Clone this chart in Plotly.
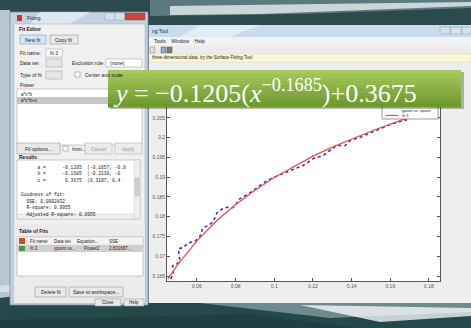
import plotly.graph_objects as go

# ---- data ----
x_data = [0.0464, 0.0470, 0.0478, 0.0474, 0.0495, 0.0512, 0.0503, 0.0529, 0.0555, 0.0590,
          0.0616, 0.0630, 0.0650, 0.0676, 0.0693, 0.0702, 0.0728, 0.0754, 0.0780, 0.0797,
          0.0814, 0.0849, 0.0883, 0.0918, 0.0952, 0.0995, 0.1047, 0.1099, 0.1151, 0.1203,
          0.1254, 0.1289, 0.1324, 0.1367, 0.1393, 0.1445, 0.1496, 0.1548, 0.1600, 0.1652, 0.1686]
y_data = [0.1643, 0.1650, 0.1655, 0.1676, 0.1680, 0.1688, 0.1719, 0.1722, 0.1734, 0.1738,
          0.1751, 0.1772, 0.1776, 0.1784, 0.1797, 0.1809, 0.1819, 0.1824, 0.1822, 0.1826,
          0.1843, 0.1853, 0.1863, 0.1876, 0.1888, 0.1899, 0.1909, 0.1918, 0.1930, 0.1947,
          0.1955, 0.1968, 0.1980, 0.1980, 0.1993, 0.2001, 0.2011, 0.2022, 0.2033, 0.2041, 0.2045]
x_fit = [0.045, 0.050, 0.060, 0.070, 0.080, 0.090, 0.100, 0.110, 0.120, 0.130, 0.140, 0.150, 0.160, 0.168]
y_fit = [0.1643, 0.1679, 0.1739, 0.1789, 0.1831, 0.1867, 0.1899, 0.1927, 0.1953, 0.1976, 0.1997, 0.2016, 0.2034, 0.2048]
x_ticks = [0.06, 0.08, 0.10, 0.12, 0.14, 0.16, 0.18]
x_tick_labels = ["0.06", "0.08", "0.1", "0.12", "0.14", "0.16", "0.18"]
y_ticks = [0.165, 0.17, 0.175, 0.18, 0.185, 0.19, 0.195, 0.2, 0.205]
y_tick_labels = ["0.165", "0.17", "0.175", "0.18", "0.185", "0.19", "0.195", "0.2", "0.205"]
equation = "<i>y</i> = −0.1205(<i>x</i><sup>−0.1685</sup>)+0.3675"
results_lines = ["      a =      -0.1205  (-0.1657, -0.0",
                 "      b =      -0.1685  (-0.2138, -0",
                 "      c =       0.3675  (0.3197, 0.4",
                 "",
                 "Goodness of fit:",
                 "  SSE: 0.0002832",
                 "  R-square: 0.9955",
                 "  Adjusted R-square: 0.9955"]

W, H = 471, 328
L, R, T, B = 167, 440, 100, 281

def px(x):
    return (x - L) / (R - L)

def py(y):
    return (B - y) / (B - T)

shapes = []
annos = []

def rect(x0, y0, x1, y1, fill, line=None, lw=0.8, layer="below", opacity=1):
    shapes.append(dict(type="rect", xref="paper", yref="paper",
                       x0=px(x0), x1=px(x1), y0=py(y1), y1=py(y0),
                       fillcolor=fill, opacity=opacity, layer=layer,
                       line=dict(color=line or fill, width=lw if line else 0)))

def path(pts, fill, layer="below", opacity=1):
    d = "M " + " L ".join(f"{px(a):.5f},{py(b):.5f}" for a, b in pts) + " Z"
    shapes.append(dict(type="path", xref="paper", yref="paper", path=d,
                       fillcolor=fill, opacity=opacity, layer=layer, line=dict(width=0)))

def text(x, y, s, size=5, color="#222", anchor="left", font="Liberation Sans", bold=False):
    if bold:
        s = "<b>" + s + "</b>"
    annos.append(dict(x=px(x), y=py(y), xref="paper", yref="paper", text=s, showarrow=False,
                      xanchor=anchor, yanchor="middle",
                      font=dict(size=size, color=color, family=font)))

# --- background decorations ---
path([(150, 0), (471, 0), (471, 8), (300, 14), (150, 16)], "#6f8f95", opacity=0.7)
path([(170, 6), (471, 2), (471, 6), (260, 14), (170, 15)], "#e6eef0", opacity=0.8)
rect(0, 10, 10, 292, "#b7c6d2")
path([(0, 286), (40, 280), (60, 290), (0, 298)], "#dce6ee", opacity=0.8)
# bottom band
rect(0, 303, 471, 328, "#25494b")
path([(200, 303), (471, 303), (471, 312), (330, 318)], "#9fb8bc", opacity=0.6)
path([(300, 305), (471, 308), (471, 316), (380, 322)], "#ffffff", opacity=0.75)
path([(0, 320), (250, 314), (360, 328), (0, 328)], "#1d3c3f", opacity=0.7)

# --- main window ---
rect(148, 25, 471, 303, "#eeeeee")
rect(148, 25, 471, 37, "#c9dcee")
path([(200, 25), (260, 25), (230, 37), (180, 37)], "#e6f0f8", opacity=0.8)
text(150, 31, "ng Tool", 5)
rect(440, 27, 450, 34, "#d8e2ec", "#8a9aaa", 0.5)
rect(451, 27, 461, 34, "#d8e2ec", "#8a9aaa", 0.5)
rect(462, 27, 471, 34, "#d8e2ec", "#8a9aaa", 0.5)
rect(148, 37, 471, 45, "#f2f2f2")
text(152, 41, "Tools    Window    Help", 5)
rect(148, 45, 471, 54, "#ececec")
rect(150, 47, 155, 53, "#dddddd", "#888888", 0.5)
rect(161, 47, 166, 53, "#8fa6c4", "#556677", 0.5)
rect(167, 47, 172, 53, "#7a7a7a", "#555555", 0.5)
rect(148, 54, 471, 62, "#fbf6d6", "#e0d9a8", 0.5)
text(150, 58, "three dimensional data, try the Surface Fitting Tool", 4.5)
shapes.append(dict(type="line", xref="paper", yref="paper", x0=px(148), x1=px(148),
                   y0=py(303), y1=py(25), line=dict(color="#60707e", width=1.5), layer="below"))
# axes white area
rect(L, T, R, B, "#ffffff")

# --- Fitting dialog ---
rect(10, 12, 148, 305, "#c3d2e2", "#7d8c9c", 0.8)
path([(40, 12), (90, 12), (70, 24), (30, 24)], "#e4edf5", opacity=0.8)
rect(14, 24, 145, 303, "#f0f0f0", "#a0a8b0", 0.5)
rect(17, 15, 22, 21, "#c0392b")
text(25, 18, "Fitting", 5)
rect(105, 13, 115, 20, "#d6e0ea", "#8a9aaa", 0.4)
rect(115, 13, 125, 20, "#d6e0ea", "#8a9aaa", 0.4)
rect(125, 13, 145, 20, "#c9473b", "#8a3a30", 0.4)
text(17, 29, "Fit Editor", 5, bold=True)
rect(20, 35, 46, 44, "#d7e6f5", "#7f9db9", 0.6)
text(33, 39.5, "New fit", 5, anchor="center")
rect(50, 35, 78, 44, "#e9e9e9", "#9a9a9a", 0.6)
text(64, 39.5, "Copy fit", 5, anchor="center")
text(18, 53, "Fit name:", 5)
rect(46, 49, 62, 57, "#ffffff", "#9a9a9a", 0.5)
text(48, 53, "fit 3", 5)
text(18, 63, "Data set", 5)
rect(46, 59, 62, 67, "#e6e6e6", "#9a9a9a", 0.5)
text(70, 63, "Exclusion rule:", 5)
rect(106, 59, 142, 67, "#ffffff", "#9a9a9a", 0.5)
text(108, 63, "(none)", 5)
text(18, 75, "Type of fit", 5)
rect(46, 71, 62, 79, "#e6e6e6", "#9a9a9a", 0.5)
rect(75, 72, 80, 77, "#ffffff", "#777777", 0.5)
text(83, 75, "Center and scale", 5)
text(18, 85, "Power", 5)
rect(17, 89, 142, 145, "#ffffff", "#9a9a9a", 0.5)
text(19, 94, "a*x^b", 4.5)
rect(17, 97, 142, 104, "#c6c6c6")
text(19, 100.5, "a*x^b+c", 4.5)
rect(17, 143, 60, 154, "#e9e9e9", "#9a9a9a", 0.6)
text(38.5, 148.5, "Fit options...", 5, anchor="center")
rect(63, 146, 68, 151, "#ffffff", "#777777", 0.5)
text(70, 148.5, "Imm...", 5)
rect(85, 143, 112, 154, "#ececec", "#b5b5b5", 0.6)
text(98.5, 148.5, "Cancel", 5, color="#9a9a9a", anchor="center")
rect(115, 143, 142, 154, "#ececec", "#b5b5b5", 0.6)
text(128.5, 148.5, "Apply", 5, color="#9a9a9a", anchor="center")
text(17, 157, "Results", 5, bold=True)
rect(17, 160, 140, 219, "#ffffff", "#9a9a9a", 0.5)
for i, ln in enumerate(results_lines):
    if ln:
        text(19, 167 + i * 6.8, ln.replace(" ", "&nbsp;"), 4.6, font="Liberation Mono")
rect(134, 160, 140, 219, "#eeeeee", "#c0c0c0", 0.4)
rect(17, 214, 134, 219, "#eeeeee", "#c0c0c0", 0.4)
rect(135, 178, 139, 196, "#d0d0d0", "#a0a0a0", 0.3)
rect(14, 224, 145, 303, "#ebebeb")
text(17, 231, "Table of Fits", 5, bold=True)
rect(17, 237, 143, 276, "#ffffff", "#9a9a9a", 0.5)
rect(17, 237, 143, 245, "#f3f3f3", "#c0c0c0", 0.4)
rect(19, 238, 25, 244, "#d04a2a")
text(28, 241, "Fit name", 4.5)
text(52, 241, "Data set", 4.5)
text(75, 241, "Equation...", 4.5)
text(107, 241, "SSE", 4.5)
rect(17, 245, 143, 252, "#cfcfcf")
rect(19, 246, 25, 251, "#3aa04a")
text(28, 248.5, "fit 3", 4.5)
text(52, 248.5, "ypoint vs...", 4.5)
text(82, 248.5, "Power2", 4.5)
text(107, 248.5, "2.831687...", 4.5)
rect(35, 287, 66, 297, "#e9e9e9", "#9a9a9a", 0.6)
text(50.5, 292, "Delete fit", 5, anchor="center")
rect(69, 287, 123, 297, "#e9e9e9", "#9a9a9a", 0.6)
text(96, 292, "Save to workspace...", 5, anchor="center")
rect(95, 299, 121, 306, "#e9e9e9", "#9a9a9a", 0.6)
text(108, 302.5, "Close", 4.5, anchor="center")
rect(124, 299, 144, 306, "#e9e9e9", "#9a9a9a", 0.6)
text(134, 302.5, "Help", 4.5, anchor="center")

# --- legend box (partly hidden by the banner) ---
rect(382, 103, 438, 119, "#ffffff", "#555555", 0.6, layer="above")
shapes.append(dict(type="line", xref="paper", yref="paper", x0=px(386), x1=px(398),
                   y0=py(115.5), y1=py(115.5), line=dict(color="#e0505a", width=1.2), layer="above"))
text(400, 110.5, "ypoint vs. xpoint", 4)
text(400, 115.5, "fit 3", 4)

# --- green banner ---
rect(110, 72, 464, 109, "#2e3b20", opacity=0.35, layer="above")
top = (166, 200, 92)
bot = (110, 152, 46)
n = 10
for i in range(n):
    t = i / (n - 1)
    c = tuple(round(top[k] + (bot[k] - top[k]) * t) for k in range(3))
    y0 = 70 + i * 37 / n
    rect(108, y0, 461, y0 + 37 / n + 0.4, "rgb(%d,%d,%d)" % c, layer="above")
annos.append(dict(x=px(111), y=py(91), xref="paper", yref="paper", text=equation,
                  showarrow=False, xanchor="left", yanchor="middle",
                  font=dict(size=26, color="#ffffff", family="Liberation Serif")))

fig = go.Figure()
fig.add_trace(go.Scatter(x=x_data, y=y_data, mode="lines",
                         line=dict(color="#4a2fa8", width=1.6, dash="dot"),
                         name="ypoint vs. xpoint", showlegend=False))
fig.add_trace(go.Scatter(x=x_fit, y=y_fit, mode="lines", line=dict(color="#e4505e", width=1.3),
                         name="fit 3", showlegend=False))

axis_common = dict(showline=True, linecolor="#555555", linewidth=0.8, mirror="ticks",
                   ticks="inside", ticklen=3, tickcolor="#555555", showgrid=False,
                   zeroline=False, tickfont=dict(size=5, color="#555555", family="Liberation Sans"))
fig.update_xaxes(range=[0.0445, 0.1857], tickvals=x_ticks, ticktext=x_tick_labels, **axis_common)
fig.update_yaxes(range=[0.16375, 0.2095], tickvals=y_ticks, ticktext=y_tick_labels, **axis_common)
fig.update_layout(width=W, height=H, margin=dict(l=L, r=W - R, t=T, b=H - B, pad=0),
                  paper_bgcolor="#2c4a4e", plot_bgcolor="rgba(0,0,0,0)",
                  shapes=shapes, annotations=annos, showlegend=False)
fig.write_html("out.html")
